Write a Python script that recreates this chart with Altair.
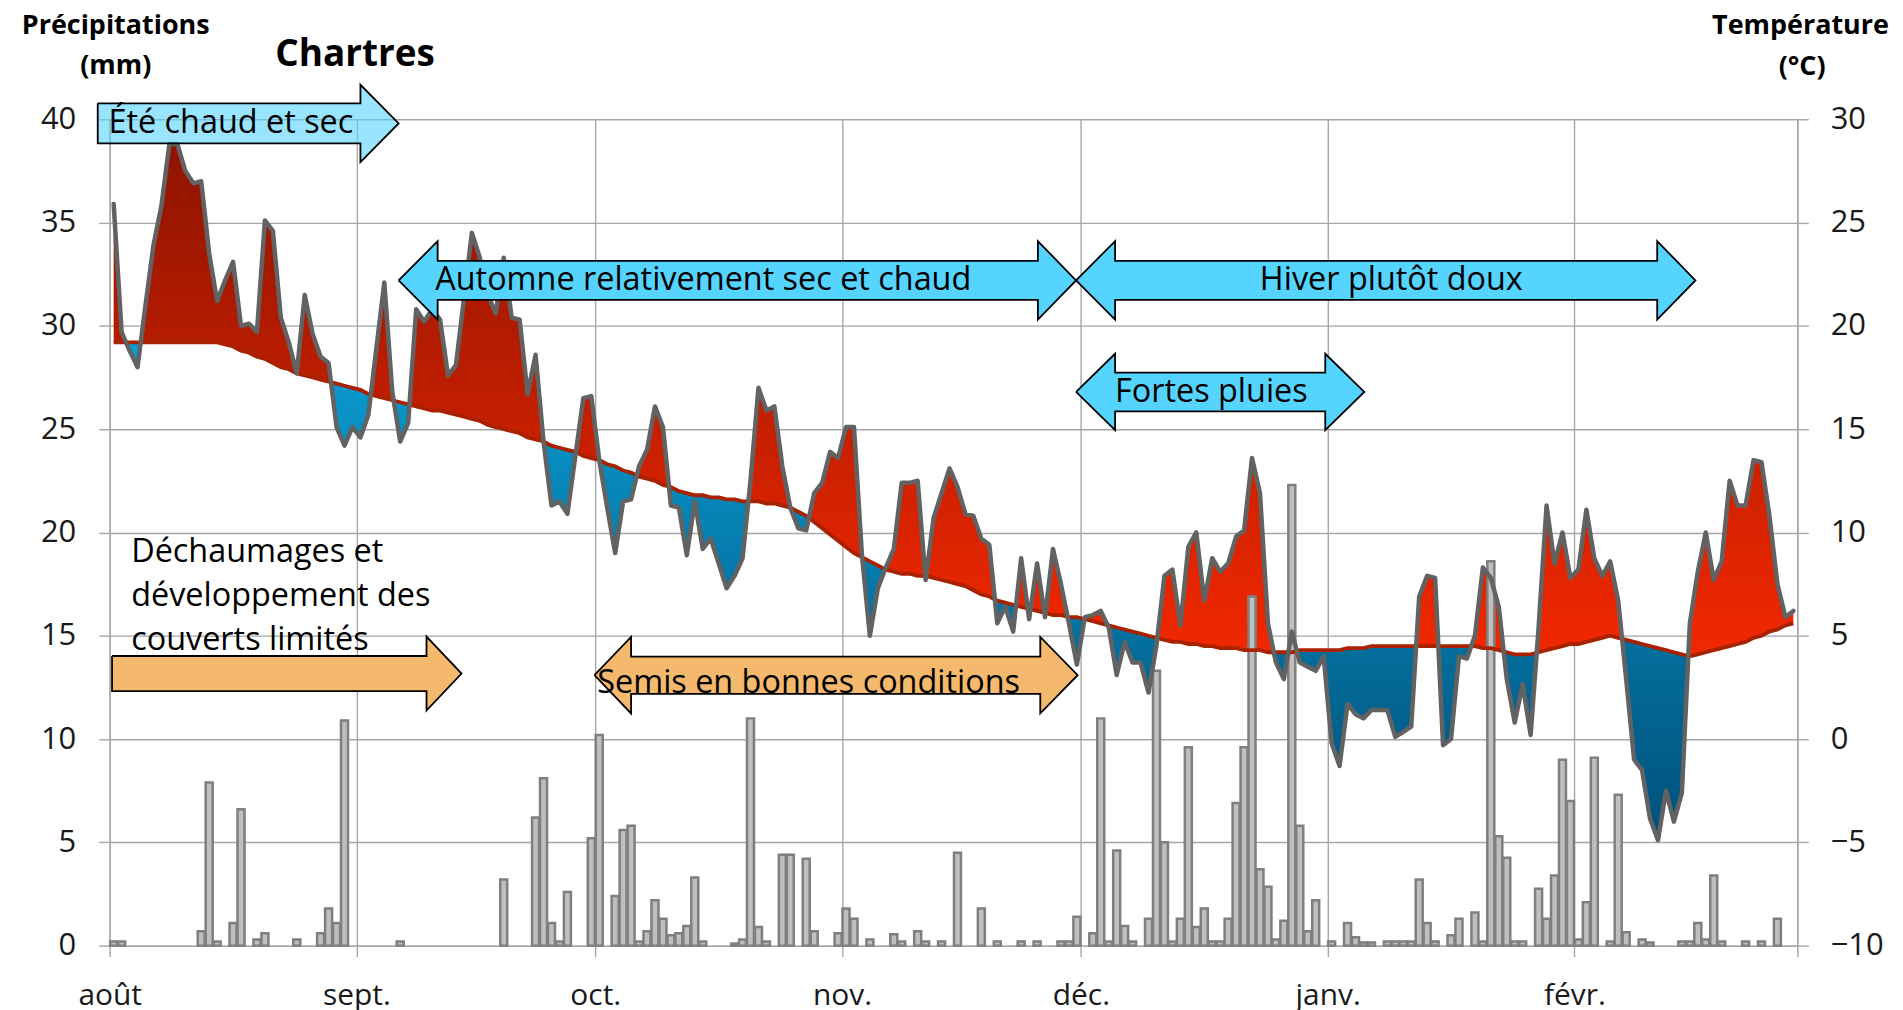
import altair as alt
import pandas as pd

# ---------------- data ----------------
month_starts = [0, 31, 61, 92, 122, 153, 184, 212]
month_labels = ["août", "sept.", "oct.", "nov.", "déc.", "janv.", "févr.", ""]
temp_ticks = [-10, -5, 0, 5, 10, 15, 20, 25, 30]   # right axis (°C)
precip_offset = 10                                  # 0 mm <-> -10 °C, 40 mm <-> 30 °C

temperature = [
    25.9, 19.7, 18.8, 18.0, 21.0, 23.9, 25.8, 28.8, 28.8, 27.5,
    26.9, 27.0, 23.5, 21.2, 22.2, 23.1, 20.0, 20.1, 19.7, 25.1,
    24.6, 20.4, 19.2, 17.7, 21.5, 19.6, 18.5, 18.2, 15.1, 14.2,
    15.1, 14.6, 15.7, 18.9, 22.1, 16.8, 14.4, 15.3, 20.8, 20.2,
    20.8, 20.3, 17.6, 18.1, 21.3, 24.5, 23.3, 21.5, 20.6, 23.3,
    20.4, 20.3, 16.7, 18.6, 14.4, 11.3, 11.5, 10.9, 13.7, 16.5,
    16.6, 13.5, 11.2, 9.0, 11.5, 11.6, 13.2, 14.0, 16.1, 15.1,
    11.3, 11.2, 8.9, 11.5, 9.2, 9.7, 8.5, 7.3, 7.9, 8.75,
    12.5, 17.0, 15.9, 16.1, 13.2, 11.2, 10.2, 10.1, 11.9, 12.4,
    13.9, 13.6, 15.1, 15.1, 8.9, 5.0, 7.3, 8.3, 9.2, 12.4,
    12.4, 12.5, 7.7, 10.7, 11.9, 13.1, 12.2, 10.9, 10.8, 9.7,
    9.4, 5.6, 6.4, 5.2, 8.75, 5.8, 8.5, 5.9, 9.2, 7.5,
    5.6, 3.6, 5.9, 6.0, 6.2, 5.4, 3.1, 4.7, 3.7, 3.7,
    2.25, 4.55, 7.9, 8.2, 5.5, 9.3, 10.0, 6.7, 8.75, 8.1,
    8.5, 9.8, 10.1, 13.6, 11.9, 5.6, 3.7, 2.9, 5.2, 3.7,
    3.5, 3.3, 4.0, -0.2, -1.3, 1.7, 1.2, 1.0, 1.4, 1.4,
    1.4, 0.1, 0.35, 0.6, 6.9, 7.9, 7.8, -0.3, 0.0, 4.0,
    3.9, 5.0, 8.3, 7.8, 6.4, 2.9, 0.8, 2.65, 0.2, 5.4,
    11.3, 8.5, 10.0, 7.8, 8.2, 11.1, 8.75, 7.9, 8.6, 6.7,
    2.9, -1.0, -1.5, -3.85, -4.9, -2.5, -4.0, -2.6, 5.6, 8.1,
    10.0, 7.7, 8.6, 12.5, 11.3, 11.3, 13.5, 13.4, 10.8, 7.5,
    5.9, 6.2,
]

normal = [
    19.2, 19.2, 19.2, 19.2, 19.2, 19.2, 19.2, 19.2, 19.2, 19.2,
    19.2, 19.2, 19.2, 19.2, 19.1, 19.0, 18.8, 18.7, 18.5, 18.4,
    18.2, 18.0, 17.9, 17.7, 17.6, 17.5, 17.4, 17.3, 17.2, 17.1,
    17.0, 16.9, 16.7, 16.6, 16.5, 16.4, 16.3, 16.2, 16.1, 16.0,
    15.9, 15.9, 15.8, 15.7, 15.6, 15.5, 15.4, 15.2, 15.1, 15.0,
    14.9, 14.8, 14.6, 14.5, 14.4, 14.2, 14.1, 14.0, 13.9, 13.7,
    13.6, 13.5, 13.3, 13.2, 13.0, 12.9, 12.7, 12.6, 12.5, 12.3,
    12.2, 12.0, 11.9, 11.8, 11.8, 11.7, 11.7, 11.6, 11.6, 11.5,
    11.5, 11.5, 11.4, 11.4, 11.3, 11.2, 11.0, 10.8, 10.5, 10.2,
    9.9, 9.6, 9.3, 9.0, 8.8, 8.6, 8.4, 8.2, 8.1, 8.0,
    8.0, 7.9, 7.9, 7.8, 7.7, 7.6, 7.5, 7.4, 7.2, 7.0,
    6.9, 6.7, 6.6, 6.5, 6.4, 6.3, 6.2, 6.1, 6.0, 6.0,
    5.9, 5.9, 5.8, 5.7, 5.6, 5.5, 5.4, 5.3, 5.2, 5.1,
    5.0, 4.9, 4.8, 4.7, 4.7, 4.6, 4.6, 4.5, 4.5, 4.4,
    4.4, 4.4, 4.3, 4.3, 4.3, 4.2, 4.2, 4.2, 4.2, 4.3,
    4.3, 4.3, 4.3, 4.3, 4.3, 4.4, 4.4, 4.4, 4.5, 4.5,
    4.5, 4.5, 4.5, 4.5, 4.5, 4.5, 4.5, 4.5, 4.5, 4.5,
    4.5, 4.5, 4.4, 4.4, 4.3, 4.2, 4.1, 4.1, 4.1, 4.2,
    4.3, 4.4, 4.5, 4.6, 4.6, 4.7, 4.8, 4.9, 5.0, 4.9,
    4.8, 4.7, 4.6, 4.5, 4.4, 4.3, 4.2, 4.1, 4.0, 4.1,
    4.2, 4.3, 4.4, 4.5, 4.6, 4.7, 4.9, 5.0, 5.2, 5.3,
    5.5, 5.6,
]

precipitation = [
    0.2, 0.2, 0, 0, 0, 0, 0, 0, 0, 0,
    0, 0.7, 7.9, 0.2, 0, 1.1, 6.6, 0, 0.3, 0.6,
    0, 0, 0, 0.3, 0, 0, 0.6, 1.8, 1.1, 10.9,
    0, 0, 0, 0, 0, 0, 0.2, 0, 0, 0,
    0, 0, 0, 0, 0, 0, 0, 0, 0, 3.2,
    0, 0, 0, 6.2, 8.1, 1.1, 0.2, 2.6, 0, 0,
    5.2, 10.2, 0, 2.4, 5.6, 5.8, 0.2, 0.7, 2.2, 1.3,
    0.5, 0.6, 0.95, 3.3, 0.2, 0, 0, 0, 0.1, 0.3,
    11.0, 0.9, 0.2, 0, 4.4, 4.4, 0, 4.2, 0.7, 0,
    0, 0.6, 1.8, 1.3, 0, 0.3, 0, 0, 0.55, 0.2,
    0, 0.7, 0.2, 0, 0.2, 0, 4.5, 0, 0, 1.8,
    0, 0.2, 0, 0, 0.2, 0, 0.2, 0, 0, 0.2,
    0.2, 1.4, 0, 0.6, 11.0, 0.2, 4.6, 0.95, 0.2, 0,
    1.3, 13.3, 5.0, 0.2, 1.3, 9.6, 0.9, 1.8, 0.2, 0.2,
    1.3, 6.9, 9.6, 16.9, 3.7, 2.85, 0.3, 1.2, 22.3, 5.8,
    0.7, 2.2, 0, 0.2, 0, 1.1, 0.4, 0.15, 0.15, 0,
    0.2, 0.2, 0.2, 0.2, 3.2, 1.1, 0.2, 0, 0.5, 1.3,
    0, 1.6, 0.2, 18.6, 5.3, 4.25, 0.2, 0.2, 0, 2.75,
    1.3, 3.4, 9.0, 7.0, 0.3, 2.1, 9.1, 0, 0.2, 7.3,
    0.65, 0, 0.3, 0.15, 0, 0, 0, 0.2, 0.2, 1.1,
    0.3, 3.4, 0.2, 0, 0, 0.2, 0, 0.2, 0, 1.3,
    0, 0,
]

# annotations: (name, kind, x positions in days, centre °C, half body, half head, colour, opacity)
arrows = [
    ("ete", "right", (-1.5, 31.5, 36.3), 29.8, 0.97, 1.87, "#55D2FF", 0.6),
    ("automne", "double", (36.3, 41.2, 116.6, 121.4), 22.2, 0.94, 1.9, "#55D4FF", 1.0),
    ("hiver", "double", (121.4, 126.3, 194.4, 199.2), 22.2, 0.94, 1.9, "#55D4FF", 1.0),
    ("fortes", "double", (121.4, 126.3, 152.7, 157.6), 16.8, 0.94, 1.85, "#55D4FF", 1.0),
    ("dechaum", "right", (0.3, 39.8, 44.2), 3.17, 0.85, 1.79, "#F4B96D", 1.0),
    ("semis", "double", (60.9, 65.5, 116.9, 121.6), 3.09, 0.9, 1.85, "#F4B96D", 1.0),
]

texts = [
    ("Été chaud et sec", -0.15, 29.8, "left", 32.5, "normal"),
    ("Automne relativement sec et chaud", 40.9, 22.2, "left", 32.5, "normal"),
    ("Hiver plutôt doux", 161.0, 22.2, "center", 32.5, "normal"),
    ("Fortes pluies", 126.3, 16.8, "left", 32.5, "normal"),
    ("Déchaumages et", 2.7, 9.03, "left", 32.5, "normal"),
    ("développement des", 2.7, 6.92, "left", 32.5, "normal"),
    ("couverts limités", 2.7, 4.81, "left", 32.5, "normal"),
    ("Semis en bonnes conditions", 61.25, 2.7, "left", 32.5, "normal"),
    ("Précipitations", 0.76, 34.5, "center", 27, "bold"),
    ("(mm)", 0.76, 32.6, "center", 27, "bold"),
    ("Chartres", 20.8, 33.12, "left", 37, "bold"),
    ("Température", 212.4, 34.5, "center", 27, "bold"),
    ("(°C)", 212.6, 32.52, "center", 27, "bold"),
]

# ---------------- derived tables ----------------
N = len(temperature)
rows = []
for k in range(N):
    rows.append({"x": k + 0.5, "t": temperature[k], "n": normal[k]})
    if k < N - 1:
        d0 = temperature[k] - normal[k]
        d1 = temperature[k + 1] - normal[k + 1]
        if d0 * d1 < 0:
            f = d0 / (d0 - d1)
            v = normal[k] + f * (normal[k + 1] - normal[k])
            rows.append({"x": k + 0.5 + f, "t": v, "n": v})
fill_df = pd.DataFrame(rows)
fill_df["hi"] = fill_df[["t", "n"]].max(axis=1)
fill_df["lo"] = fill_df[["t", "n"]].min(axis=1)

line_df = pd.DataFrame({"x": [k + 0.5 for k in range(N)], "t": temperature, "n": normal})
bar_df = pd.DataFrame({"x0": [k + 0.06 for k in range(N)],
                       "x1": [k + 0.94 for k in range(N)],
                       "p": precipitation})
bar_df = bar_df[bar_df["p"] > 0]

EPS = 0.001
arrow_fill_dfs, out_rows = [], []
for name, kind, xs_, c, bh, hh, col, op in arrows:
    if kind == "right":
        tail, base, tip = xs_
        f = [(tail, c + bh, c - bh), (base, c + bh, c - bh), (base + EPS, c + hh, c - hh), (tip, c, c)]
        o = [(tail, c + bh), (base, c + bh), (base, c + hh), (tip, c), (base, c - hh),
             (base, c - bh), (tail, c - bh), (tail, c + bh)]
    else:
        t1, b1, b2, t2 = xs_
        f = [(t1, c, c), (b1 - EPS, c + hh, c - hh), (b1, c + bh, c - bh), (b2, c + bh, c - bh),
             (b2 + EPS, c + hh, c - hh), (t2, c, c)]
        o = [(t1, c), (b1, c + hh), (b1, c + bh), (b2, c + bh), (b2, c + hh), (t2, c),
             (b2, c - hh), (b2, c - bh), (b1, c - bh), (b1, c - hh), (t1, c)]
    arrow_fill_dfs.append((pd.DataFrame(f, columns=["x", "top", "bot"]), col, op))
    for i, (x, y) in enumerate(o):
        out_rows.append({"name": name, "o": i, "x": x, "y": y})
arrow_out_df = pd.DataFrame(out_rows)

# ---------------- chart ----------------
FONT = "Open Sans"
xs = alt.Scale(domain=[0, 212], nice=False, zero=False)
ys = alt.Scale(domain=[-10, 30], nice=False, zero=False)

label_expr = ""
for v, lab in zip(month_starts, month_labels):
    label_expr += "datum.value == %d ? '%s' : " % (v, lab)
label_expr += "''"

# identical x axis in every layer so the shared axis merges cleanly
x_axis = alt.Axis(values=month_starts, grid=True, title=None, tickSize=11, labelPadding=24,
                  labelExpr=label_expr, labelFontSize=30, labelFlush=False, orient="bottom")
left_axis = alt.Axis(orient="left", values=temp_ticks, grid=True, title=None, tickSize=11,
                     labelPadding=23, labelExpr="datum.value + %d" % precip_offset,
                     labelFontSize=31)
right_axis = alt.Axis(orient="right", values=temp_ticks, grid=False, title=None, tickSize=11,
                      labelPadding=22, labelFontSize=31)


def X(field):
    return alt.X(field, scale=xs, axis=x_axis)


red_grad = alt.LinearGradient(gradient="linear", x1=0, x2=0, y1=0, y2=1,
                              stops=[alt.GradientStop(offset=0, color="#8E1400"),
                                     alt.GradientStop(offset=1, color="#F22800")])
blue_grad = alt.LinearGradient(gradient="linear", x1=0, x2=0, y1=0, y2=1,
                               stops=[alt.GradientStop(offset=0, color="#0A9DD3"),
                                      alt.GradientStop(offset=1, color="#00507A")])

axis_layer = alt.Chart(line_df).mark_line(opacity=0).encode(
    x=X("x:Q"),
    y=alt.Y("n:Q", scale=ys, axis=left_axis),
)
red = alt.Chart(fill_df).mark_area(color=red_grad).encode(
    x=X("x:Q"),
    y=alt.Y("hi:Q", scale=ys, axis=None),
    y2="n:Q",
)
blue = alt.Chart(fill_df).mark_area(color=blue_grad).encode(
    x=X("x:Q"),
    y=alt.Y("lo:Q", scale=ys, axis=None),
    y2="n:Q",
)
bars = alt.Chart(bar_df).transform_calculate(
    top="datum.p - %d" % precip_offset, base="-%d" % precip_offset
).mark_rect(fill="#BFBFBF", stroke="#7F7F7F", strokeWidth=2.5).encode(
    x=X("x0:Q"),
    x2="x1:Q",
    y=alt.Y("top:Q", scale=ys, axis=None),
    y2="base:Q",
)
norm_line = alt.Chart(line_df).mark_line(color="#A82200", strokeWidth=3.8).encode(
    x=X("x:Q"),
    y=alt.Y("n:Q", scale=ys, axis=None),
)
temp_line = alt.Chart(line_df).mark_line(color="#626262", strokeWidth=4.5, strokeJoin="round",
                                         strokeCap="round").encode(
    x=X("x:Q"),
    y=alt.Y("t:Q", scale=ys, axis=right_axis),
)

arrow_fills = []
for adf, col, op in arrow_fill_dfs:
    arrow_fills.append(
        alt.Chart(adf).mark_area(color=col, opacity=op).encode(
            x=X("x:Q"),
            y=alt.Y("top:Q", scale=ys, axis=None),
            y2="bot:Q",
        )
    )
arrow_out = alt.Chart(arrow_out_df).mark_line(color="#000000", strokeWidth=1.8,
                                              strokeJoin="miter").encode(
    x=X("x:Q"),
    y=alt.Y("y:Q", scale=ys, axis=None),
    detail="name:N",
    order="o:Q",
)

text_layers = []
for txt, tx, ty, align, size, weight in texts:
    tdf = pd.DataFrame({"x": [tx], "y": [ty], "label": [txt]})
    text_layers.append(
        alt.Chart(tdf).mark_text(align=align, baseline="middle", font=FONT, fontSize=size,
                                 fontWeight=weight, color="#000000").encode(
            x=X("x:Q"),
            y=alt.Y("y:Q", scale=ys, axis=None),
            text="label:N",
        )
    )

chart = alt.layer(axis_layer, red, blue, bars, norm_line, temp_line, *arrow_fills, arrow_out,
                  *text_layers
).resolve_axis(y="independent").properties(
    width=1693, height=829,
    padding={"left": 102, "top": 110, "right": 98, "bottom": 72},
    autosize=alt.AutoSizeParams(type="none"),
).configure_axis(
    domainColor="#A6A6A6", gridColor="#A6A6A6", tickColor="#A6A6A6",
    domainWidth=1.4, gridWidth=1.4, tickWidth=1.4,
    labelFont=FONT, labelColor="#1A1A1A",
).configure_view(strokeWidth=0)

chart.save("out.html", embed_options={"renderer": "svg", "actions": False})
